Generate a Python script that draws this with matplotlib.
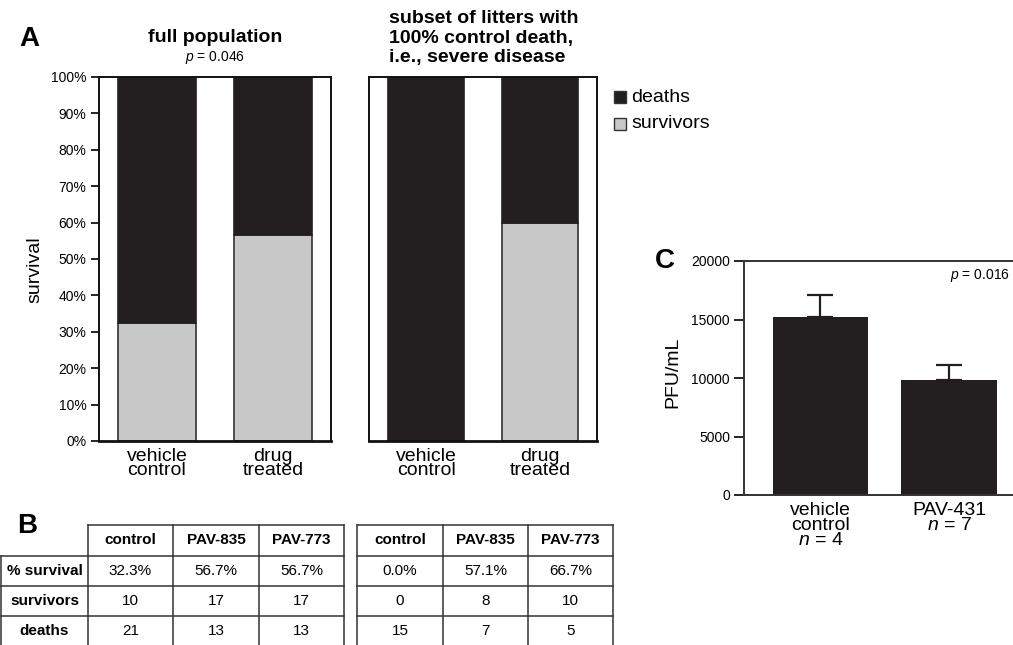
import matplotlib
matplotlib.use("Agg")
import matplotlib.pyplot as plt
from matplotlib.patches import Rectangle

plt.rcParams['font.family'] = ['Liberation Sans', 'DejaVu Sans']
plt.rcParams['mathtext.fontset'] = 'custom'
plt.rcParams['mathtext.it'] = 'Liberation Sans:italic'
plt.rcParams['mathtext.rm'] = 'Liberation Sans'

# ---- Panel A data: survival fractions (%) ----
groups = ["vehicle\ncontrol", "drug\ntreated"]
full_survival = [32.3, 56.7]
severe_survival = [0.0, 60.0]
p_full = "0.046"

# ---- Panel B data: counts table ----
table_cols = ["control", "PAV-835", "PAV-773"]
table_rows = ["% survival", "survivors", "deaths"]
full_pct = ["32.3%", "56.7%", "56.7%"]
full_survivors = [10, 17, 17]
full_deaths = [21, 13, 13]
severe_pct = ["0.0%", "57.1%", "66.7%"]
severe_survivors = [0, 8, 10]
severe_deaths = [15, 7, 5]

# ---- Panel C data: viral titre ----
c_groups = ["vehicle\ncontrol\n$n$ = 4", "PAV-431\n$n$ = 7"]
c_means = [15200, 9800]
c_sem = [1900, 1350]
p_c = "0.016"
c_ticks = [0, 5000, 10000, 15000, 20000]

DEATH = "#231f20"
SURV = "#c8c8c8"
W, H = 1013, 645

fig = plt.figure(figsize=(W / 100, H / 100), dpi=100)


def px_axes(x0, y0, x1, y1):
    return fig.add_axes([x0 / W, 1 - y1 / H, (x1 - x0) / W, (y1 - y0) / H])


def ftext(x, y, s, **kw):
    return fig.text(x / W, 1 - y / H, s, **kw)


def survival_panel(ax, surv, show_y):
    xs = range(len(surv))
    deaths = [100 - s for s in surv]
    ax.bar(xs, surv, width=0.67, color=SURV, edgecolor="#333333", linewidth=1.2, zorder=2)
    ax.bar(xs, deaths, bottom=surv, width=0.67, color=DEATH, edgecolor=DEATH, linewidth=1.2, zorder=2)
    ax.set_xlim(-0.5, 1.5)
    ax.set_ylim(0, 100)
    ax.set_xticks(list(xs))
    ax.set_xticklabels(groups, fontsize=14, linespacing=0.8)
    ax.tick_params(axis='x', length=0, pad=5)
    for s in ax.spines.values():
        s.set_linewidth(1.4)
        s.set_color("#111111")
    ax.spines['bottom'].set_linewidth(2.0)
    if show_y:
        ax.set_yticks(range(0, 101, 10))
        ax.set_yticklabels([f"{v}%" for v in range(0, 101, 10)], fontsize=10)
        ax.tick_params(axis='y', direction='out', length=6, width=1.2, pad=3)
    else:
        ax.set_yticks([])


axA1 = px_axes(99, 77, 331, 441)
survival_panel(axA1, full_survival, True)
ftext(35, 270, "survival", fontsize=14, rotation=90, ha='center', va='center')
ftext(215, 38, "full population", fontsize=14, fontweight='bold', ha='center', va='center')
ftext(215, 58, "$p$ = " + p_full, fontsize=10, ha='center', va='center')

axA2 = px_axes(369, 77, 597, 441)
survival_panel(axA2, severe_survival, False)
ftext(389, 38, "subset of litters with\n100% control death,\ni.e., severe disease",
      fontsize=14, fontweight='bold', ha='left', va='center', linespacing=1.18)

ftext(29, 39, "A", fontsize=20, fontweight='bold', ha='center', va='center')

# legend
for y, col, lab in [(97, DEATH, "deaths"), (124, SURV, "survivors")]:
    fig.patches.append(Rectangle((614 / W, 1 - (y + 6) / H), 12 / W, 12 / H,
                                 transform=fig.transFigure, facecolor=col,
                                 edgecolor="#333333", linewidth=1.0))
    ftext(631, y, lab, fontsize=14, ha='left', va='center')

# ---- Panel C ----
axC = px_axes(744, 261, 1013, 495)
axC.bar(range(len(c_means)), c_means, width=0.745, color=DEATH, zorder=2)
axC.errorbar(range(len(c_means)), c_means, yerr=[[0, 0], c_sem], fmt='none',
             ecolor=DEATH, elinewidth=1.6, capsize=9.5, capthick=1.6, zorder=3)
axC.set_xlim(-0.595, 1.498)
axC.set_ylim(0, 20000)
axC.set_yticks(c_ticks)
axC.set_yticklabels([str(v) for v in c_ticks], fontsize=10)
axC.tick_params(axis='y', direction='out', length=7, width=1.2, pad=3)
axC.set_xticks(range(len(c_means)))
axC.set_xticklabels(c_groups, fontsize=14, linespacing=0.85, va='top')
axC.tick_params(axis='x', length=0, pad=5)
axC.spines['right'].set_visible(False)
for s in ['left', 'top', 'bottom']:
    axC.spines[s].set_linewidth(1.4)
    axC.spines[s].set_color("#333333")
ftext(673, 372, "PFU/mL", fontsize=14, rotation=90, ha='center', va='center')
ftext(1010, 275, "$p$ = " + p_c, fontsize=10, ha='right', va='center')
ftext(665, 261, "C", fontsize=20, fontweight='bold', ha='center', va='center')

# ---- Panel B: tables ----
ov = fig.add_axes([0, 0, 1, 1], zorder=-1)
ov.set_xlim(0, W)
ov.set_ylim(H, 0)
ov.axis('off')

row_y = [525, 556, 586, 616, 650]
row_mid = [540.5, 571, 601, 631]
lc = "#333333"


def draw_table(x_edges, values, with_labels):
    xl, xr = x_edges[0], x_edges[-1]
    col_start = x_edges[1] if with_labels else x_edges[0]
    ov.plot([col_start, xr], [row_y[0]] * 2, color=lc, lw=1.1)
    for y in row_y[1:4]:
        ov.plot([xl, xr], [y] * 2, color=lc, lw=1.1)
    for i, x in enumerate(x_edges):
        top = row_y[1] if (with_labels and i == 0) else row_y[0]
        ov.plot([x, x], [top, row_y[-1]], color=lc, lw=1.1)
    data_edges = x_edges[1:] if with_labels else x_edges
    for j, name in enumerate(table_cols):
        xc = (data_edges[j] + data_edges[j + 1]) / 2
        ov.text(xc, row_mid[0], name, fontsize=11, fontweight='bold',
                ha='center', va='center')
        for r in range(3):
            ov.text(xc, row_mid[r + 1], str(values[r][j]), fontsize=11,
                    ha='center', va='center')
    if with_labels:
        for r, lab in enumerate(table_rows):
            ov.text((x_edges[0] + x_edges[1]) / 2, row_mid[r + 1], lab, fontsize=11,
                    fontweight='bold', ha='center', va='center')


draw_table([1, 88, 173, 259, 344], [full_pct, full_survivors, full_deaths], True)
draw_table([357, 443, 528, 613], [severe_pct, severe_survivors, severe_deaths], False)
ov.text(27, 526, "B", fontsize=20, fontweight='bold', ha='center', va='center')

fig.savefig("out.png", dpi=100)
